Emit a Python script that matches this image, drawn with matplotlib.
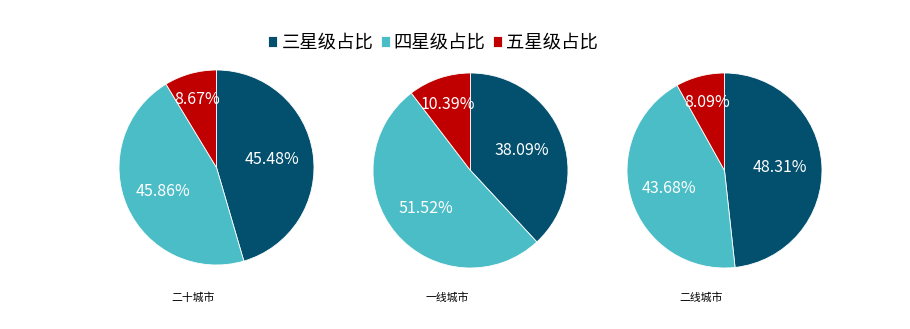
import matplotlib
matplotlib.use("Agg")
import matplotlib.pyplot as plt
import numpy as np

plt.rcParams['font.family'] = ['Noto Sans CJK SC', 'DejaVu Sans']

# data
cities = ['二十城市', '一线城市', '二线城市']
categories = ['三星级占比', '四星级占比', '五星级占比']
three_star = [45.48, 38.09, 48.31]
four_star = [45.86, 51.52, 43.68]
five_star = [8.67, 10.39, 8.09]

colors = ['#024F6E', '#4BBDC7', '#C00000']
label_dist = [0.57, 0.6, 0.72]

fig = plt.figure(figsize=(9.1, 3.29), dpi=100)

# pie centres in pixels (from top-left)
centers_x = [216.5, 470.5, 724.5]
centers_y = [167.5, 170.5, 170.5]
r_px = 97.5
lim = 1.01
w_px = 2 * r_px * lim

wedges_all = None
for i, city in enumerate(cities):
    cx = centers_x[i] / 910
    cy = 1 - centers_y[i] / 329
    ax = fig.add_axes([cx - w_px / 2 / 910, cy - w_px / 2 / 329, w_px / 910, w_px / 329])
    vals = [three_star[i], four_star[i], five_star[i]]
    wedges, _ = ax.pie(vals, colors=colors, startangle=90, counterclock=False,
                       radius=1.0, wedgeprops=dict(linewidth=0.6, edgecolor='white'))
    # percentage labels at wedge middles
    for wdg, v, d in zip(wedges, vals, label_dist):
        ang = np.deg2rad((wdg.theta1 + wdg.theta2) / 2)
        ax.text(d * np.cos(ang), d * np.sin(ang), f'{v:.2f}%', color='white',
                fontsize=11.5, ha='center', va='center')
    ax.set_xlim(-lim, lim)
    ax.set_ylim(-lim, lim)
    ax.set_aspect('equal')
    fig.text((centers_x[i] - 23) / 910, 1 - 298 / 329, city, fontsize=7.8,
             ha='center', va='center')
    if wedges_all is None:
        wedges_all = wedges

fig.legend(wedges_all, categories, ncol=3, loc='center', bbox_to_anchor=(0.476, 1 - 43 / 329),
           frameon=False, fontsize=13.2, handlelength=0.5, handleheight=0.5,
           handletextpad=0.22, columnspacing=0.4, borderpad=0, borderaxespad=0)

fig.savefig('out.png', dpi=100)
